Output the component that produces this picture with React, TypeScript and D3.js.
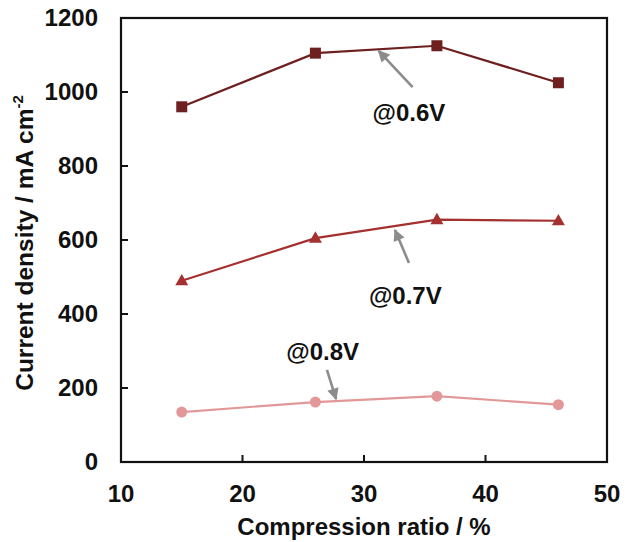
import React from 'react';
import * as d3 from 'd3';

const RATIO = [15, 26, 36, 46];
const AT_06V = [960, 1105, 1125, 1025];
const AT_07V = [490, 605, 655, 652];
const AT_08V = [135, 162, 178, 155];
const X_TICKS = [10, 20, 30, 40, 50];
const Y_TICKS = [0, 200, 400, 600, 800, 1000, 1200];

// annotation arrows: [tipX, tipY, tailX, tailY], label [x, y]
const NOTES = [
  { text: '@0.6V', tip: [31.2, 1111], tail: [34.0, 1013], label: [33.7, 922] },
  { text: '@0.7V', tip: [32.55, 627], tail: [33.7, 538], label: [33.4, 427] },
  { text: '@0.8V', tip: [27.7, 170], tail: [26.95, 249], label: [26.6, 276] },
];

const W = 635;
const H = 542;
const margin = { top: 18, right: 28, bottom: 80, left: 121 };
const FONT = '"Liberation Sans", Arial, sans-serif';

export default function App() {
  const innerW = W - margin.left - margin.right;
  const innerH = H - margin.top - margin.bottom;

  const x = d3.scaleLinear().domain([10, 50]).range([0, innerW]);
  const y = d3.scaleLinear().domain([0, 1200]).range([innerH, 0]);

  const line = d3
    .line<number>()
    .x((_, i) => x(RATIO[i]))
    .y((d) => y(d));

  const series = [
    { values: AT_06V, color: '#6e1f1f', shape: 'square' },
    { values: AT_07V, color: '#a53030', shape: 'triangle' },
    { values: AT_08V, color: '#e29898', shape: 'circle' },
  ];

  const marker = (shape: string, cx: number, cy: number, color: string, key: string) => {
    if (shape === 'square') {
      return <rect key={key} x={cx - 5.5} y={cy - 5.5} width={11} height={11} fill={color} />;
    }
    if (shape === 'triangle') {
      const s = 13;
      const h = s * 0.87;
      return (
        <path
          key={key}
          d={`M${cx},${cy - h * 0.6}L${cx + s / 2},${cy + h * 0.4}L${cx - s / 2},${cy + h * 0.4}Z`}
          fill={color}
        />
      );
    }
    return <circle key={key} cx={cx} cy={cy} r={5.5} fill={color} />;
  };

  return (
    <>
      <style>{`body{margin:0}`}</style>
      <svg width={W} height={H} style={{ display: 'block', background: '#fff' }} fontFamily={FONT}>
        <defs>
          <marker
            id="head"
            viewBox="0 0 10 10"
            refX="9"
            refY="5"
            markerWidth="5"
            markerHeight="4.5"
            markerUnits="strokeWidth"
            orient="auto"
          >
            <path d="M0,0L10,5L0,10Z" fill="#8c8c8c" />
          </marker>
        </defs>
        <g transform={`translate(${margin.left},${margin.top})`}>
          {/* frame */}
          <rect x={0} y={0} width={innerW} height={innerH} fill="none" stroke="#111" strokeWidth={2.2} />

          {/* x ticks */}
          {X_TICKS.map((t) => (
            <g key={t} transform={`translate(${x(t)},0)`}>
              <line y1={innerH} y2={innerH - 7} stroke="#111" strokeWidth={2} />
              <text y={innerH + 40} textAnchor="middle" fontSize={24} fontWeight="bold" fill="#111">
                {t}
              </text>
            </g>
          ))}

          {/* y ticks */}
          {Y_TICKS.map((t) => (
            <g key={t} transform={`translate(0,${y(t)})`}>
              <line x1={0} x2={7} stroke="#111" strokeWidth={2} />
              <text x={-23} dy="0.35em" textAnchor="end" fontSize={24} fontWeight="bold" fill="#111">
                {t}
              </text>
            </g>
          ))}

          {/* series */}
          {series.map((s, si) => (
            <g key={si}>
              <path d={line(s.values) || ''} fill="none" stroke={s.color} strokeWidth={2.2} />
              {s.values.map((v, i) => marker(s.shape, x(RATIO[i]), y(v), s.color, `${si}-${i}`))}
            </g>
          ))}

          {/* annotations */}
          {NOTES.map((n) => (
            <g key={n.text}>
              <line
                x1={x(n.tail[0])}
                y1={y(n.tail[1])}
                x2={x(n.tip[0])}
                y2={y(n.tip[1])}
                stroke="#8c8c8c"
                strokeWidth={2.6}
                markerEnd="url(#head)"
              />
              <text x={x(n.label[0])} y={y(n.label[1])} textAnchor="middle" fontSize={24} fontWeight="bold" fill="#111">
                {n.text}
              </text>
            </g>
          ))}

          {/* axis titles */}
          <text x={innerW / 2} y={innerH + 73} textAnchor="middle" fontSize={24} fontWeight="bold" fill="#111">
            Compression ratio / %
          </text>
          <text
            transform={`translate(${-88},${innerH / 2 + 3}) rotate(-90)`}
            textAnchor="middle"
            fontSize={24.5}
            fontWeight="bold"
            fill="#111"
          >
            Current density / mA cm
            <tspan fontSize={15} dy={-10}>-2</tspan>
          </text>
        </g>
      </svg>
    </>
  );
}
